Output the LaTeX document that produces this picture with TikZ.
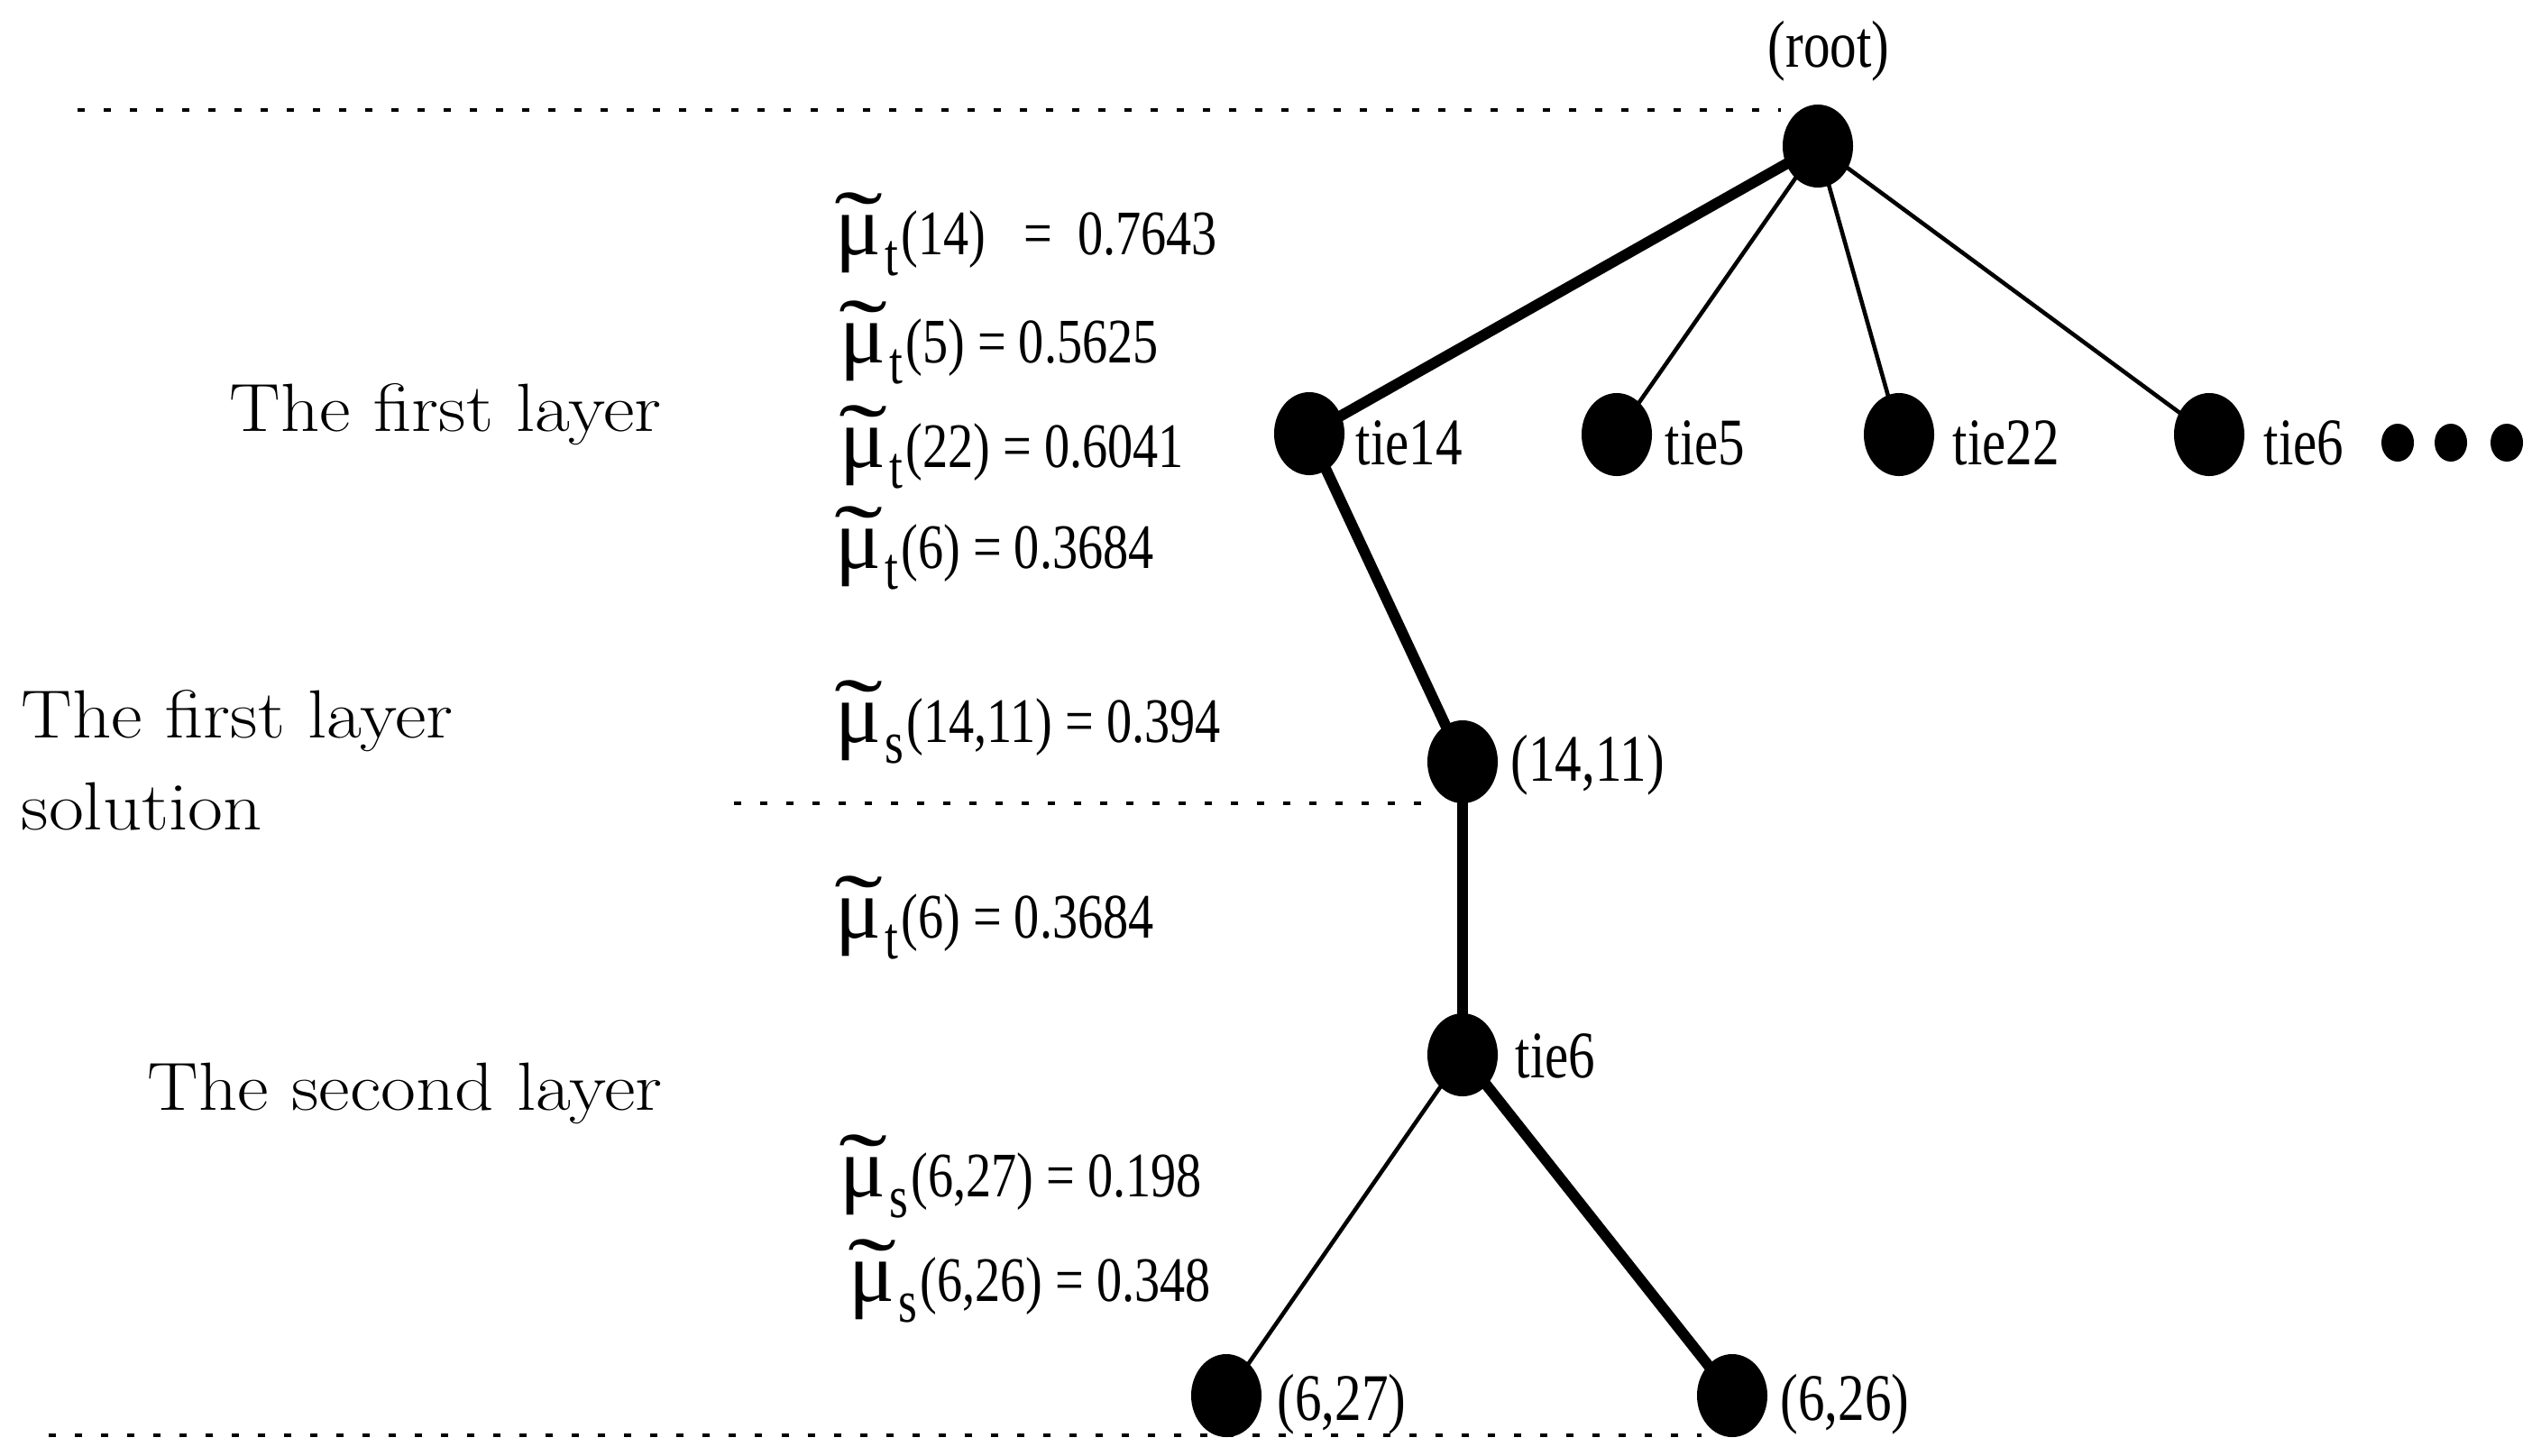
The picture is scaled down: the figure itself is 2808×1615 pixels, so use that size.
\documentclass[tikz,border=0pt]{standalone}
\usepackage{amsmath}
\usepackage{graphicx}
\usepackage{fontspec}
\newfontfamily\lib{Liberation Serif}
\usetikzlibrary{shapes.geometric,backgrounds}
\newcommand{\nlab}[1]{\scalebox{0.8}[1]{\fontsize{21}{24}\selectfont\lib #1}}
\newcommand{\tmu}{\ooalign{\hidewidth\scalebox{4.6}[2.9]{\lib ˜}\hidewidth\cr\scalebox{2.7}{\lib μ}}}
\newcommand{\mut}[2]{\tmu\kern1pt\raisebox{-0.23cm}{\scalebox{0.8}[1]{\fontsize{19}{22}\selectfont\lib #1}}\kern1pt\scalebox{0.8}[1]{\fontsize{20}{24}\selectfont\lib #2}}
\tikzset{
  vtx/.style={ellipse, fill=black, inner sep=0pt, minimum width=0.78cm, minimum height=0.92cm},
  dotv/.style={ellipse, fill=black, inner sep=0pt, minimum width=0.36cm, minimum height=0.42cm},
  thickedge/.style={line width=3.4pt},
  thinedge/.style={line width=1.3pt},
  sepline/.style={line width=1.1pt, dash pattern=on 0.08cm off 0.21cm},
  bigtext/.style={font=\fontsize{21.5}{25}\selectfont, inner sep=0pt, anchor=base west},
  nl/.style={inner sep=0pt, anchor=base west},
  fl/.style={inner sep=0pt, anchor=base west}
}
\newcommand{\bt}[1]{\scalebox{1.12}[1]{#1}}
\begin{document}
\begin{tikzpicture}[x=0.01cm,y=-0.01cm]
\useasboundingbox (0,0) rectangle (2808,1615);

% separators
\coordinate (s1a) at (86,122);   \coordinate (s1b) at (1975,122);
\coordinate (s2a) at (814,891);  \coordinate (s2b) at (1595,891);
\coordinate (s3a) at (54,1592);  \coordinate (s3b) at (1887,1592);
\draw[sepline] (s1a) -- (s1b);
\draw[sepline] (s2a) -- (s2b);
\draw[sepline] (s3a) -- (s3b);

% tree nodes
\node[vtx] (root)  at (2016,162) {};
\node[vtx] (tie14) at (1452,481) {};
\node[vtx] (tie5)  at (1793,482) {};
\node[vtx] (tie22) at (2106,482) {};
\node[vtx] (tie6a) at (2450,482) {};
\node[dotv] (d1) at (2659,491) {};
\node[dotv] (d2) at (2718,491) {};
\node[dotv] (d3) at (2780,491) {};
\node[vtx] (n1411) at (1622,845) {};
\node[vtx] (tie6b) at (1622,1170) {};
\node[vtx] (n627)  at (1360,1548) {};
\node[vtx] (n626)  at (1921,1548) {};

\begin{scope}[on background layer]
\draw[thickedge] (root.center) -- (tie14.center);
\draw[thinedge] (root.center) -- (tie5.center);
\draw[thinedge] (root.center) -- (tie22.center);
\draw[thinedge] (root.center) -- (tie6a.center);
\draw[thickedge] (tie14.center) -- (n1411.center);
\draw[thickedge] (n1411.center) -- (tie6b.center);
\draw[thinedge] (tie6b.center) -- (n627.center);
\draw[thickedge] (tie6b.center) -- (n626.center);
\end{scope}

% node labels
\node[inner sep=0pt, anchor=base] (lroot) at (2028,74) {\nlab{(root)}};
\node[nl] (ltie14) at (1503,515) {\nlab{tie14}};
\node[nl] (ltie5)  at (1846,515) {\nlab{tie5}};
\node[nl] (ltie22) at (2165,515) {\nlab{tie22}};
\node[nl] (ltie6a) at (2510,515) {\nlab{tie6}};
\node[nl] (l1411)  at (1675,866) {\nlab{(14,11)}};
\node[nl] (ltie6b) at (1680,1195) {\nlab{tie6}};
\node[nl] (l627)   at (1416,1575) {\nlab{(6,27)}};
\node[nl] (l626)   at (1974,1575) {\nlab{(6,26)}};

% left texts
\node[bigtext] (t1) at (254,478) {\bt{The first layer}};
\node[bigtext] (t2) at (23,818) {\bt{The first layer}};
\node[bigtext] (t3) at (23,920) {\bt{solution}};
\node[bigtext] (t4) at (163,1231) {\bt{The second layer}};

% formulas
\node[fl] (f1) at (926,282)  {\mut{t}{(14)\ \ \ =\ \ 0.7643}};
\node[fl] (f2) at (931,402)  {\mut{t}{(5) = 0.5625}};
\node[fl] (f3) at (931,518)  {\mut{t}{(22) = 0.6041}};
\node[fl] (f4) at (926,630)  {\mut{t}{(6) = 0.3684}};
\node[fl] (f5) at (926,823)  {\mut{s}{(14,11) = 0.394}};
\node[fl] (f6) at (926,1040) {\mut{t}{(6) = 0.3684}};
\node[fl] (f7) at (931,1327) {\mut{s}{(6,27) = 0.198}};
\node[fl] (f8) at (941,1443) {\mut{s}{(6,26) = 0.348}};
\end{tikzpicture}
\end{document}
